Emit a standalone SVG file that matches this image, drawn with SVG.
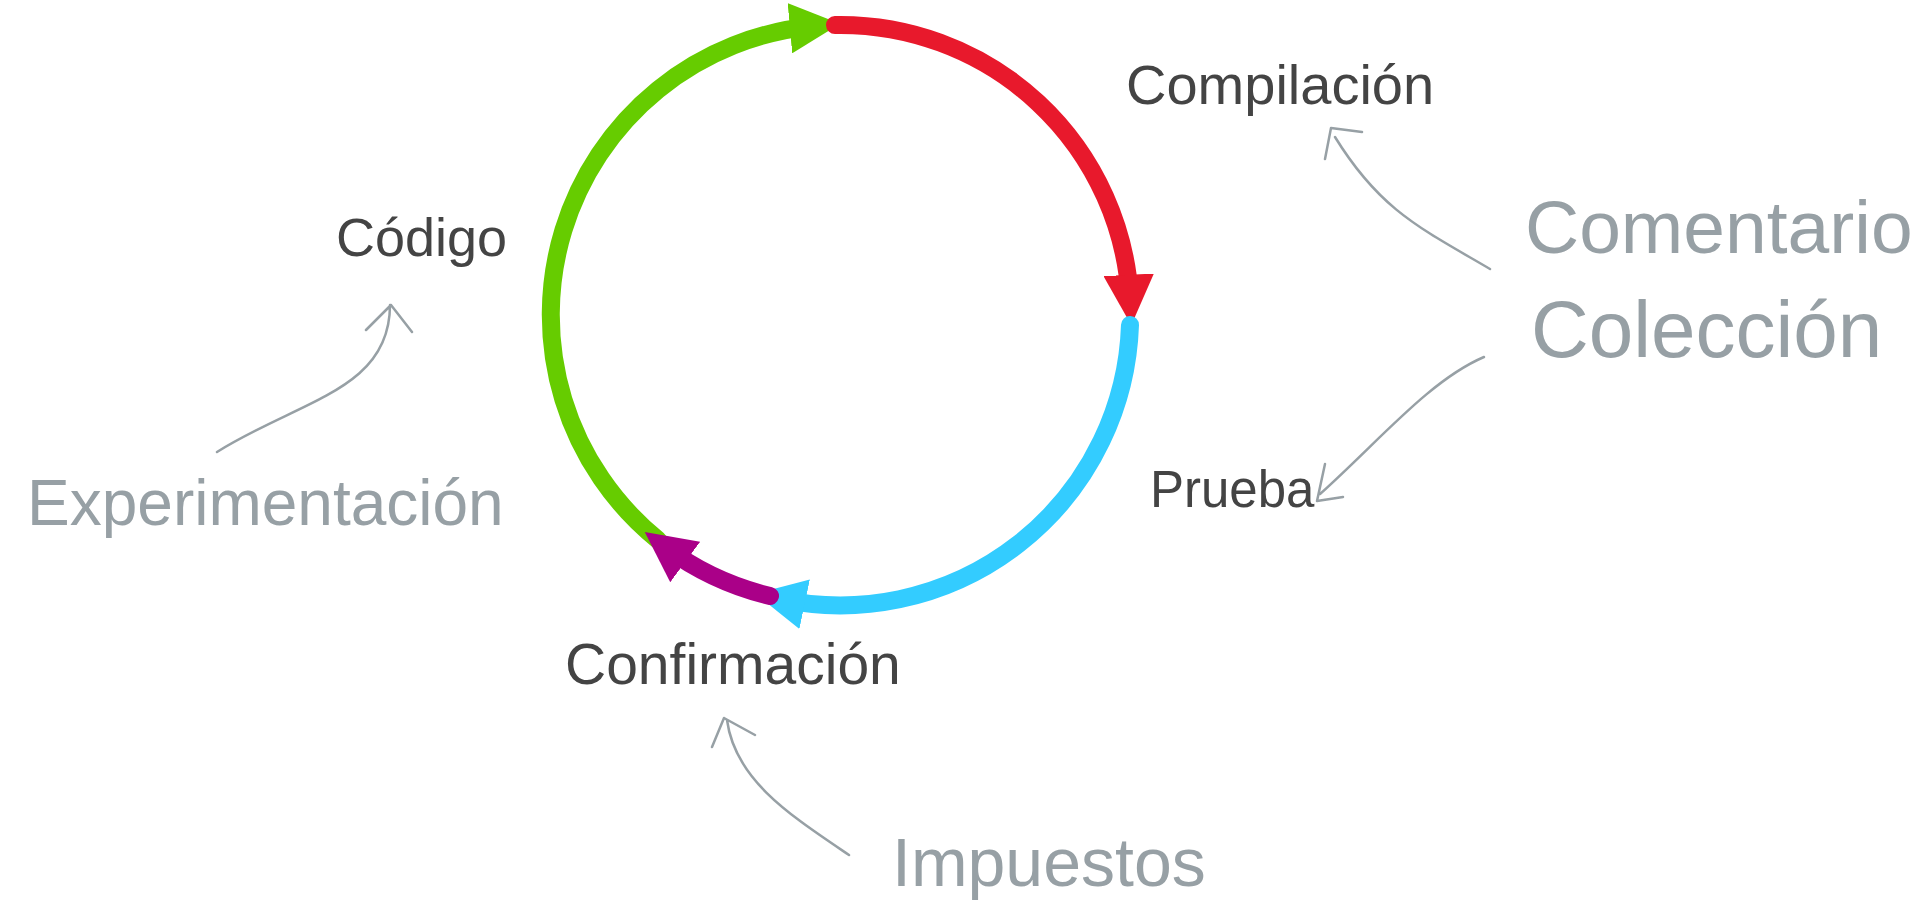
<svg xmlns="http://www.w3.org/2000/svg" width="1915" height="910" viewBox="0 0 1915 910">
<style>
.seg{fill:none;stroke-width:18;stroke-linecap:round}
.ann{fill:none;stroke:#97a0a5;stroke-width:2.5;stroke-linecap:round;stroke-linejoin:round}
.d{font-family:"Liberation Sans",Arial,sans-serif;fill:#444}
.g{font-family:"Liberation Sans",Arial,sans-serif;fill:#97a0a5}
</style>
<defs>
<marker id="mg" viewBox="0 0 10 10" refX="5" refY="5" markerWidth="2.8" markerHeight="2.8" orient="auto" markerUnits="strokeWidth"><path d="M0,0 L10,5 L0,10 Z" fill="#66cc00"/></marker>
<marker id="mr" viewBox="0 0 10 10" refX="5" refY="5" markerWidth="2.8" markerHeight="2.8" orient="auto" markerUnits="strokeWidth"><path d="M0,0 L10,5 L0,10 Z" fill="#e8192c"/></marker>
<marker id="mb" viewBox="0 0 10 10" refX="5" refY="5" markerWidth="2.8" markerHeight="2.8" orient="auto" markerUnits="strokeWidth"><path d="M0,0 L10,5 L0,10 Z" fill="#33ccff"/></marker>
<marker id="mp" viewBox="0 0 10 10" refX="5" refY="5" markerWidth="2.8" markerHeight="2.8" orient="auto" markerUnits="strokeWidth"><path d="M0,0 L10,5 L0,10 Z" fill="#aa0088"/></marker>
</defs>
<g id="connectors">
<path class="seg" stroke="#66cc00" d="M658 540 A290 290 0 0 1 815 26" marker-end="url(#mg)"/>
<path class="seg" stroke="#e8192c" d="M835 25 A290 290 0 0 1 1130 300" marker-end="url(#mr)"/>
<path class="seg" stroke="#33ccff" d="M1130 325 A290 290 0 0 1 780 599" marker-end="url(#mb)"/>
<path class="seg" stroke="#aa0088" d="M770 596 A290 290 0 0 1 665 547" marker-end="url(#mp)"/>
<path class="ann" d="M1490 269 C1420 228 1380 210 1335 137 M1325 159 L1331 128 L1362 132"/>
<path class="ann" d="M1484 357 C1430 380 1380 440 1320 494 M1325 464 L1317 501 L1343 497"/>
<path class="ann" d="M217 452 C300 400 390 390 390 305 M366 330 L391 305 L412 332"/>
<path class="ann" d="M849 855 C790 815 735 780 727 720 M712 747 L724 718 L755 735"/>
</g>
<g id="n-compilacion"><text class="d" x="1126" y="104" font-size="56">Compilación</text></g>
<g id="n-codigo"><text class="d" x="336" y="256" font-size="54">Código</text></g>
<g id="n-prueba"><text class="d" x="1150" y="507" font-size="51">Prueba</text></g>
<g id="n-confirmacion"><text class="d" x="565" y="684" font-size="57">Confirmación</text></g>
<g id="n-experimentacion"><text class="g" x="27" y="525" font-size="64">Experimentación</text></g>
<g id="n-comentario"><text class="g" x="1525" y="253" font-size="75">Comentario</text><text class="g" x="1531" y="357" font-size="80">Colección</text></g>
<g id="n-impuestos"><text class="g" x="892" y="886" font-size="68">Impuestos</text></g>
</svg>
